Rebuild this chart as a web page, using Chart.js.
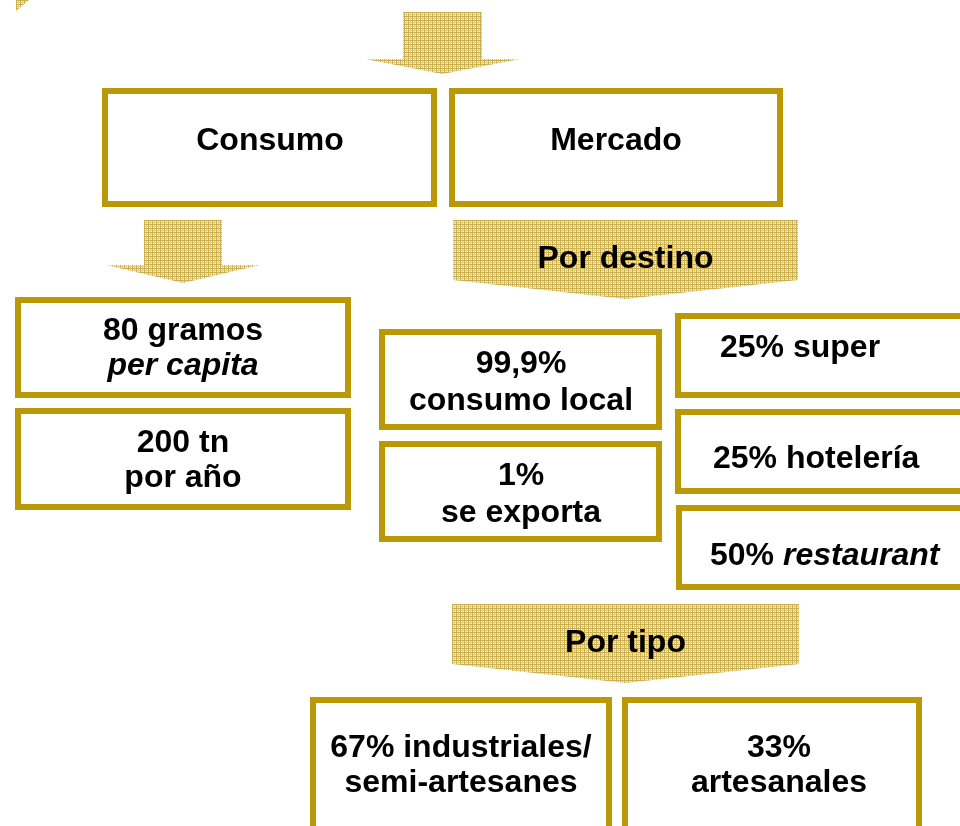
<!DOCTYPE html>
<html>
<head>
<meta charset="utf-8">
<script src="https://cdn.jsdelivr.net/npm/chart.js@4"></script>
<style>
    html, body { margin: 0; background: #fff; }
    #wrap { width: 960px; height: 826px; }
</style>
</head>
<body>
<div id="wrap"><canvas id="diagram"></canvas></div>
<script>
// Data
const headings = ['Consumo', 'Mercado'];
const consumoAmounts = ['80 gramos', '200 tn'];
const consumoUnits = ['per capita', 'por año'];
const destinoLabel = 'Por destino';
const destinoShares = [99.9, 1];
const destinoNames = ['consumo local', 'se exporta'];
const canalShares = [25, 25, 50];
const canalNames = ['super', 'hotelería', 'restaurant'];
const tipoLabel = 'Por tipo';
const tipoShares = [67, 33];
const tipoFirst = ['industriales/', ''];
const tipoSecond = ['semi-artesanes', 'artesanales'];
const italicWords = ['per capita', 'restaurant'];

// Color theme
const colors = {
    gold: '#BB9807',
    hatchDark: '#CDB04A',
    hatchMid: '#E2D08E',
    hatchLight: '#F6EFD3',
    text: '#000000'
};
const FONT = '"Liberation Sans", Arial, sans-serif';

const pct = v => String(v).replace('.', ',') + '%';
const seg = t => ({ t: t, it: italicWords.includes(t) });

// Layout: boxes [x0, y0, x1, y1], text lines with anchor
const boxes = [
    { r: [102, 88, 437, 207], x: 270, base: [150], lines: [[seg(headings[0])]] },
    { r: [449, 88, 783, 207], x: 616, base: [150], lines: [[seg(headings[1])]] },
    { r: [15, 297, 351, 398], x: 183, base: [340, 375], lines: [[seg(consumoAmounts[0])], [seg(consumoUnits[0])]] },
    { r: [15, 408, 351, 510], x: 183, base: [452, 487], lines: [[seg(consumoAmounts[1])], [seg(consumoUnits[1])]] },
    { r: [379, 329, 662, 430], x: 521, base: [373, 410], lines: [[seg(pct(destinoShares[0]))], [seg(destinoNames[0])]] },
    { r: [379, 441, 662, 542], x: 521, base: [485, 522], lines: [[seg(pct(destinoShares[1]))], [seg(destinoNames[1])]] },
    { r: [675, 313, 980, 398], x: 720, align: 'left', base: [357], lines: [[seg(pct(canalShares[0]) + ' '), seg(canalNames[0])]] },
    { r: [675, 409, 980, 494], x: 713, align: 'left', base: [468], lines: [[seg(pct(canalShares[1]) + ' '), seg(canalNames[1])]] },
    { r: [676, 505, 980, 590], x: 710, align: 'left', base: [565], lines: [[seg(pct(canalShares[2]) + ' '), seg(canalNames[2])]] },
    { r: [310, 697, 612, 850], x: 461, base: [757, 792], lines: [[seg((pct(tipoShares[0]) + ' ' + tipoFirst[0]).trim())], [seg(tipoSecond[0])]] },
    { r: [622, 697, 922, 850], x: 779, base: [757, 792], lines: [[seg((pct(tipoShares[1]) + ' ' + tipoFirst[1]).trim())], [seg(tipoSecond[1])]] }
];

// Hatched arrows: stem [x0, y0, x1, y1], head [left, right, tipY]
const arrows = [
    { stem: [403, 12, 482, 59], head: [365, 520, 74] },
    { stem: [144, 220, 222, 265], head: [106, 260, 283] },
    { stem: [453, 220, 798, 280], head: [453, 798, 299], label: destinoLabel, base: 268 },
    { stem: [452, 604, 799, 664], head: [452, 799, 683], label: tipoLabel, base: 652 }
];
const cornerTip = [[16, 0], [29, 0], [16, 11]];

// plaid fill like the original hatched arrows
function hatchPattern(ctx) {
    const tile = document.createElement('canvas');
    tile.width = 4;
    tile.height = 4;
    const t = tile.getContext('2d');
    t.fillStyle = colors.hatchLight;
    t.fillRect(0, 0, 4, 4);
    t.fillStyle = colors.hatchMid;
    t.fillRect(0, 2, 4, 1);
    t.fillRect(2, 0, 1, 4);
    t.fillStyle = colors.hatchDark;
    t.fillRect(0, 0, 4, 1);
    t.fillRect(0, 0, 1, 4);
    return ctx.createPattern(tile, 'repeat');
}

function drawLine(ctx, segs, x, y, align) {
    let total = 0;
    segs.forEach(s => {
        ctx.font = (s.it ? 'italic ' : '') + 'bold 32px ' + FONT;
        s.w = ctx.measureText(s.t).width;
        total += s.w;
    });
    let cx = align === 'left' ? x : x - total / 2;
    segs.forEach(s => {
        ctx.font = (s.it ? 'italic ' : '') + 'bold 32px ' + FONT;
        ctx.fillText(s.t, cx, y);
        cx += s.w;
    });
}

const diagramPlugin = {
    id: 'diagram',
    afterDraw(chart) {
        const ctx = chart.ctx;
        const px = v => chart.scales.x.getPixelForValue(v);
        const py = v => chart.scales.y.getPixelForValue(v);
        const pattern = hatchPattern(ctx);
        ctx.save();

        // arrows
        ctx.fillStyle = pattern;
        arrows.forEach(a => {
            const [x0, y0, x1, y1] = a.stem;
            const [hl, hr, tip] = a.head;
            ctx.beginPath();
            ctx.moveTo(px(x0), py(y0));
            ctx.lineTo(px(x1), py(y0));
            ctx.lineTo(px(x1), py(y1));
            ctx.lineTo(px(hr), py(y1));
            ctx.lineTo(px((x0 + x1) / 2), py(tip));
            ctx.lineTo(px(hl), py(y1));
            ctx.lineTo(px(x0), py(y1));
            ctx.closePath();
            ctx.fill();
        });
        ctx.beginPath();
        cornerTip.forEach((p, i) => i ? ctx.lineTo(px(p[0]), py(p[1])) : ctx.moveTo(px(p[0]), py(p[1])));
        ctx.closePath();
        ctx.fill();

        // boxes
        ctx.strokeStyle = colors.gold;
        ctx.lineWidth = 6;
        boxes.forEach(b => {
            const [x0, y0, x1, y1] = b.r;
            ctx.strokeRect(px(x0) + 3, py(y0) + 3, px(x1) - px(x0) - 6, py(y1) - py(y0) - 6);
        });

        // text
        ctx.fillStyle = colors.text;
        ctx.textBaseline = 'alphabetic';
        ctx.textAlign = 'left';
        boxes.forEach(b => {
            b.lines.forEach((segs, i) => drawLine(ctx, segs, px(b.x), py(b.base[i]), b.align));
        });
        arrows.filter(a => a.label).forEach(a => {
            drawLine(ctx, [seg(a.label)], px((a.stem[0] + a.stem[2]) / 2), py(a.base), 'center');
        });
        ctx.restore();
    }
};

const diagramCtx = document.getElementById('diagram').getContext('2d');
const diagramChart = new Chart(diagramCtx, {
    type: 'scatter',
    data: { datasets: [{ data: [] }] },
    options: {
        responsive: true,
        maintainAspectRatio: false,
        animation: false,
        layout: { padding: 0 },
        plugins: {
            legend: { display: false },
            tooltip: { enabled: false }
        },
        scales: {
            x: { type: 'linear', min: 0, max: 960, display: false },
            y: { type: 'linear', min: 0, max: 826, reverse: true, display: false }
        }
    },
    plugins: [diagramPlugin]
});
</script>
</body>
</html>
